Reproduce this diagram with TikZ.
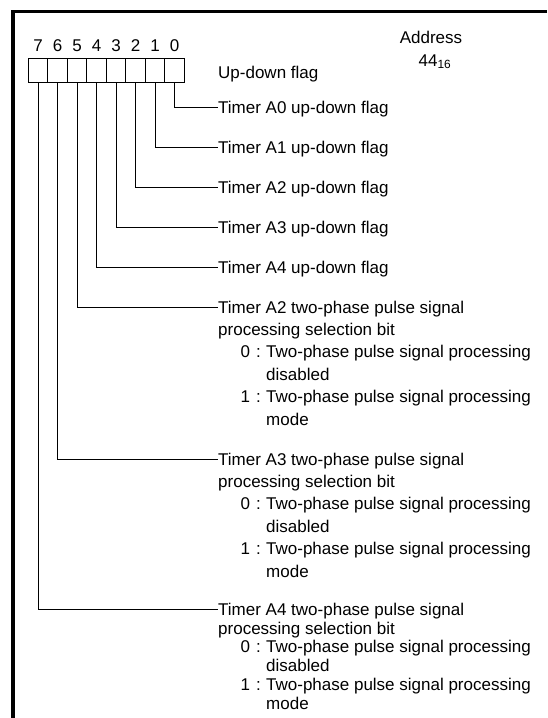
\documentclass[tikz,border=0pt]{standalone}
\usepackage{fontspec}
\setmainfont{Liberation Sans}
\usetikzlibrary{positioning}

\begin{document}
\begin{tikzpicture}[
  x=1pt, y=-1pt,
  node distance=7.3pt,
  font=\fontsize{17}{19}\selectfont,
  txt/.style={inner sep=0pt, text height=12.2pt, text depth=0pt, anchor=west},
  bitcell/.style={draw, line width=0.9pt, minimum width=19.5pt,
                  minimum height=24pt, inner sep=0pt},
  wire/.style={line width=0.8pt}
]
  \useasboundingbox (0,0) rectangle (547,718);
  \draw[line width=3.5pt] (547,11.5) -- (13,11.5) -- (13,718);

  % register bits
  \foreach \i in {0,...,7} {
    \node (b\i) [bitcell] at ({174.5-19.5*\i},70) {};
    \node (n\i) [txt, anchor=center] at ({174.5-19.5*\i},45) {\i};
  }
  \node (adr) [txt, anchor=center] at (431,37) {Address};
  \node (num) [txt, anchor=center] at (435,60) {44\textsubscript{16}};
  \node (ud)  [txt] at (218,72) {Up-down flag};

  % up-down flags
  \foreach \i/\y in {0/107, 1/147, 2/187, 3/227, 4/267} {
    \node (t\i) [txt] at (218,\y) {Timer A\i{} up-down flag};
    \draw[wire] (b\i.south) |- (t\i.west);
  }

  % two-phase selection bits
  \foreach \i/\tm/\y/\gap in {5/A2/307/9.8pt, 6/A3/459/9.8pt, 7/A4/609/6.3pt} {
    \node (t\i) [txt] at (218,\y) {Timer \tm{} two-phase pulse signal};
    \node (s\i) [txt, below=\gap of t\i.south west, anchor=north west] {processing selection bit};
    \node (z\i) [txt, below=\gap of s\i.south west, anchor=north west, xshift=48pt]
      {Two-phase pulse signal processing};
    \node (zk\i) [txt, left=5pt of z\i] {0\hspace{6pt}:};
    \node (d\i) [txt, below=\gap of z\i.south west, anchor=north west] {disabled};
    \node (o\i) [txt, below=\gap of d\i.south west, anchor=north west]
      {Two-phase pulse signal processing};
    \node (ok\i) [txt, left=5pt of o\i] {1\hspace{6pt}:};
    \node (m\i) [txt, below=\gap of o\i.south west, anchor=north west] {mode};
    \draw[wire] (b\i.south) |- (t\i.west);
  }
\end{tikzpicture}
\end{document}
